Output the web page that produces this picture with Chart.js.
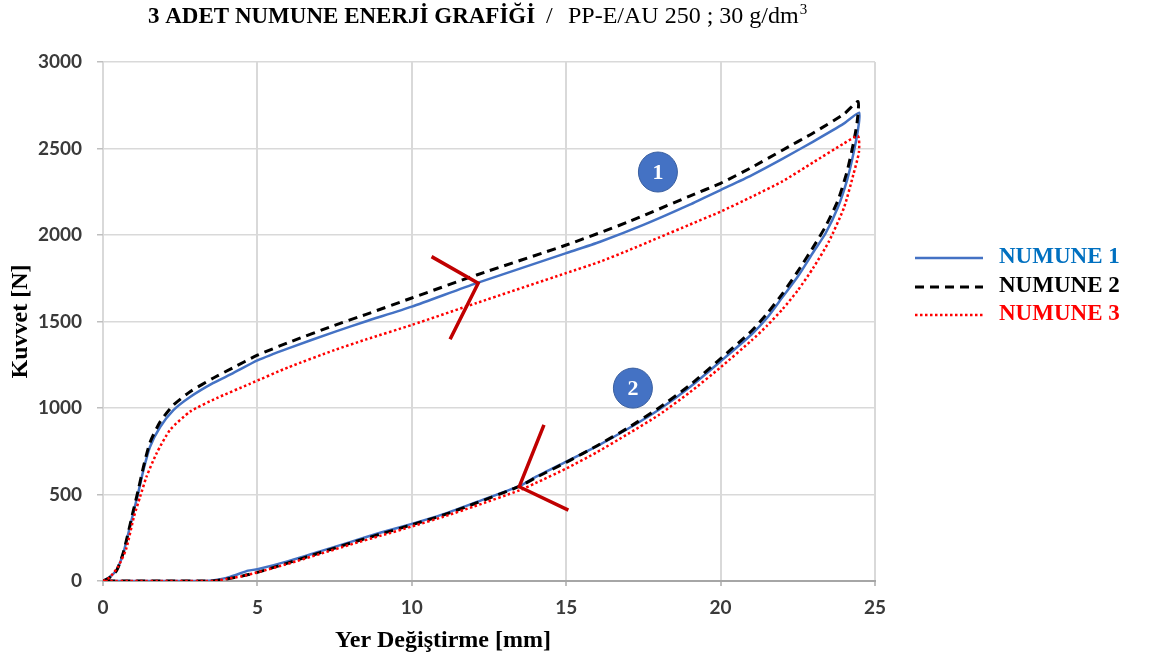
<!DOCTYPE html>
<html lang="tr">
<head>
<meta charset="UTF-8">
<title>3 Adet Numune Enerji Grafiği</title>
<script src="https://cdn.jsdelivr.net/npm/chart.js"></script>
<style>
  html, body { margin: 0; padding: 0; background: #fff; }
  #wrap { width: 1154px; height: 666px; }
</style>
</head>
<body>
<div id="wrap"><canvas id="energyChart" width="1154" height="666"></canvas></div>
<script>
// Yer değiştirme [mm] / kuvvet [N]
// loading branch (1) then unloading branch (2)
const n1LoadX = [0, 0.2, 0.44, 0.66, 0.98, 1.14, 1.31, 1.52, 1.85, 2.28, 2.82, 3.56, 4.2, 5, 6, 7.5, 8.5, 10, 12.1, 15, 16.1, 17.5, 19, 20, 21, 22, 23, 24, 24.49];
const n1LoadY = [0, 20, 64, 162, 393, 509, 642, 775, 890, 988, 1064, 1144, 1200, 1275, 1345, 1440, 1500, 1586, 1722, 1895, 1961, 2058, 2175, 2260, 2345, 2440, 2540, 2645, 2707];
const n1UnloadX = [24.45, 24.3, 24.1, 23.8, 23.4, 23.0, 22.5, 22.0, 21.5, 21, 20, 19, 18, 17, 16, 15, 14, 13.5, 12, 11, 10, 9, 8, 7, 6, 5, 4.7, 4.3, 4.0, 3.6, 3.3, 2, 1, 0];
const n1UnloadY = [2610, 2470, 2320, 2160, 2010, 1900, 1760, 1640, 1520, 1425, 1270, 1120, 990, 880, 780, 690, 600, 550, 450, 385, 330, 280, 225, 170, 115, 68, 60, 35, 18, 4, 0, 0, 0, 0];

const n2LoadX = [0, 0.2, 0.44, 0.66, 0.98, 1.14, 1.31, 1.52, 1.85, 2.28, 2.82, 3.56, 4.2, 5, 6, 7.5, 8.5, 10, 12.1, 15, 17, 19, 20, 21, 22, 23, 24, 24.45];
const n2LoadY = [0, 18, 60, 165, 405, 525, 660, 800, 920, 1017, 1094, 1172, 1232, 1305, 1378, 1478, 1540, 1636, 1769, 1942, 2075, 2225, 2299, 2390, 2490, 2590, 2700, 2771];
const n2UnloadX = [24.42, 24.3, 24.1, 23.8, 23.4, 23.0, 22.5, 22.0, 21.5, 21, 20, 19, 18, 17, 16, 15, 14, 13.5, 12, 11, 10, 9, 8, 7, 6, 5, 4.5, 4, 3.5, 2, 1, 0];
const n2UnloadY = [2650, 2530, 2370, 2200, 2050, 1930, 1790, 1660, 1545, 1445, 1285, 1132, 1000, 885, 782, 686, 596, 548, 445, 380, 325, 272, 218, 162, 105, 50, 28, 12, 0, 0, 0, 0];

const n3LoadX = [0, 0.2, 0.49, 0.75, 1.0, 1.2, 1.41, 1.74, 2.17, 2.82, 3.68, 4.76, 6, 7.5, 8.5, 10, 12.1, 15, 16.1, 17, 18, 19, 20, 21, 22, 23, 24, 24.45];
const n3LoadY = [0, 18, 83, 185, 370, 486, 603, 740, 873, 979, 1057, 1140, 1235, 1335, 1395, 1480, 1607, 1780, 1846, 1910, 1985, 2060, 2135, 2220, 2310, 2420, 2530, 2572];
const n3UnloadX = [24.48, 24.3, 24.0, 23.5, 23.0, 22.5, 22.0, 21.5, 21, 20, 19, 18, 17, 16, 15, 14, 13.5, 12, 11, 10, 9, 8, 7, 6, 5, 4.5, 4, 3.6, 2, 1, 0];
const n3UnloadY = [2480, 2350, 2160, 1960, 1810, 1680, 1570, 1475, 1390, 1235, 1090, 960, 850, 745, 650, 565, 525, 430, 370, 315, 262, 210, 155, 100, 50, 28, 12, 0, 0, 0, 0];

const seriesNames = ['NUMUNE 1', 'NUMUNE 2', 'NUMUNE 3'];
const xTicks = [0, 5, 10, 15, 20, 25];
const yTicks = [0, 500, 1000, 1500, 2000, 2500, 3000];

// direction arrows and the numbered markers (data units)
const arrowUpX = [10.64, 12.15, 11.24];
const arrowUpY = [1875, 1721, 1397];
const arrowDownX = [14.28, 13.48, 15.07];
const arrowDownY = [902, 545, 410];
const badgeLabels = ['1', '2'];
const badgeX = [17.97, 17.16];
const badgeY = [2364, 1115];

function pts(xs, ys) {
    return xs.map((v, i) => ({ x: v, y: ys[i] }));
}

const legendTextColors = ['#0070C0', '#000000', '#FF0000'];

const textPlugin = {
    id: 'texts',
    afterDraw(chart) {
        const ctx = chart.ctx;
        const sx = chart.scales.x, sy = chart.scales.y;
        ctx.save();

        // title
        ctx.fillStyle = '#000';
        ctx.textBaseline = 'alphabetic';
        ctx.textAlign = 'left';
        ctx.font = 'bold 23px "Liberation Serif"';
        ctx.fillText('3 ADET NUMUNE ENERJİ GRAFİĞİ', 148, 23);
        ctx.font = '24px "Liberation Serif"';
        ctx.fillText('/', 546, 23);
        const sub = 'PP-E/AU 250 ; 30 g/dm';
        ctx.fillText(sub, 568, 23);
        const w = ctx.measureText(sub).width;
        ctx.font = '15px "Liberation Serif"';
        ctx.fillText('3', 568 + w + 1, 14);

        // axis titles
        ctx.font = 'bold 24px "Liberation Serif"';
        ctx.textAlign = 'center';
        ctx.fillText('Yer Değiştirme [mm]', 443, 647);
        ctx.save();
        ctx.translate(21, (chart.chartArea.top + chart.chartArea.bottom) / 2);
        ctx.rotate(-Math.PI / 2);
        ctx.textBaseline = 'middle';
        ctx.fillText('Kuvvet [N]', 0, 0);
        ctx.restore();

        // legend
        const rows = [258, 287, 315];
        chart.data.datasets.slice(0, 3).forEach((ds, i) => {
            ctx.save();
            ctx.strokeStyle = ds.borderColor;
            ctx.lineWidth = ds.borderWidth;
            ctx.setLineDash(ds.borderDash || []);
            ctx.beginPath();
            ctx.moveTo(915, rows[i]);
            ctx.lineTo(983, rows[i]);
            ctx.stroke();
            ctx.restore();
            ctx.font = 'bold 23px "Liberation Serif"';
            ctx.textAlign = 'left';
            ctx.textBaseline = 'alphabetic';
            ctx.fillStyle = legendTextColors[i];
            ctx.fillText(ds.label, 999, rows[i] + 5);
        });

        // numbered markers
        badgeLabels.forEach((t, i) => {
            const px = sx.getPixelForValue(badgeX[i]);
            const py = sy.getPixelForValue(badgeY[i]);
            ctx.beginPath();
            ctx.ellipse(px, py, 19.5, 20, 0, 0, Math.PI * 2);
            ctx.fillStyle = '#4472C4';
            ctx.fill();
            ctx.strokeStyle = '#3a5f9f';
            ctx.lineWidth = 1;
            ctx.stroke();
            ctx.fillStyle = '#fff';
            ctx.font = 'bold 22px "Liberation Serif"';
            ctx.textAlign = 'center';
            ctx.textBaseline = 'middle';
            ctx.fillText(t, px, py + 1);
        });
        ctx.restore();
    }
};

const ctx = document.getElementById('energyChart').getContext('2d');
new Chart(ctx, {
    type: 'scatter',
    data: {
        datasets: [{
            label: seriesNames[0],
            data: pts(n1LoadX.concat(n1UnloadX), n1LoadY.concat(n1UnloadY)),
            borderColor: '#4472C4',
            borderWidth: 2.5,
            order: 3
        }, {
            label: seriesNames[1],
            data: pts(n2LoadX.concat(n2UnloadX), n2LoadY.concat(n2UnloadY)),
            borderColor: '#000000',
            borderWidth: 3,
            borderDash: [9, 6],
            order: 2
        }, {
            label: seriesNames[2],
            data: pts(n3LoadX.concat(n3UnloadX), n3LoadY.concat(n3UnloadY)),
            borderColor: '#FF0000',
            borderWidth: 2.5,
            borderDash: [2.5, 2.5],
            order: 1
        }, {
            label: 'ok1',
            data: pts(arrowUpX, arrowUpY),
            borderColor: '#C00000',
            borderWidth: 3.5,
            tension: 0,
            order: 0
        }, {
            label: 'ok2',
            data: pts(arrowDownX, arrowDownY),
            borderColor: '#C00000',
            borderWidth: 3.5,
            tension: 0,
            order: 0
        }]
    },
    options: {
        responsive: false,
        animation: false,
        showLine: true,
        elements: {
            point: { radius: 0, hoverRadius: 0 },
            line: { tension: 0.2, fill: false }
        },
        layout: { padding: { left: 0, right: 279, top: 62, bottom: 0 } },
        plugins: {
            legend: { display: false },
            title: { display: false },
            tooltip: { enabled: false }
        },
        scales: {
            x: {
                type: 'linear',
                min: 0,
                max: 25,
                afterFit(scale) { scale.height = 85; },
                afterBuildTicks(scale) { scale.ticks = xTicks.map(v => ({ value: v })); },
                grid: { color: '#D9D9D9', lineWidth: 2, tickLength: 5, tickColor: '#BFBFBF' },
                border: { display: true, color: '#A6A6A6', width: 2 },
                ticks: {
                    color: '#3a3a3a',
                    padding: 10,
                    callback: v => String(v),
                    font: { family: 'Lato', size: 19, weight: 'bold' }
                }
            },
            y: {
                type: 'linear',
                min: 0,
                max: 3000,
                afterFit(scale) { scale.width = 103; },
                afterBuildTicks(scale) { scale.ticks = yTicks.map(v => ({ value: v })); },
                grid: { color: '#D9D9D9', lineWidth: 1.5, tickLength: 6, tickColor: '#BFBFBF' },
                border: { display: false },
                ticks: {
                    color: '#3a3a3a',
                    padding: 15,
                    callback: v => String(v),
                    font: { family: 'Lato', size: 19, weight: 'bold' }
                }
            }
        }
    },
    plugins: [textPlugin]
});
</script>
</body>
</html>
